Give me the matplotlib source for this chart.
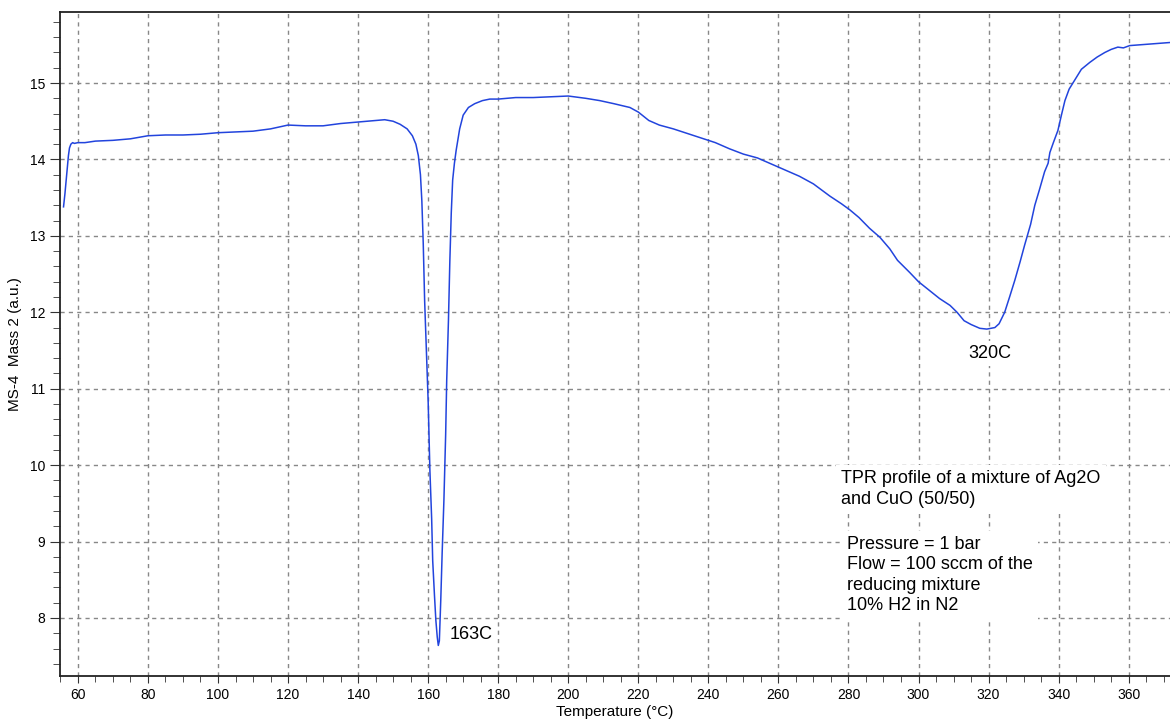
import matplotlib
matplotlib.use("Agg")
import matplotlib.pyplot as plt
from matplotlib.ticker import MultipleLocator

plt.rcParams['font.family'] = ['Liberation Sans', 'DejaVu Sans']

temperature = [55.9, 56.3, 56.7, 57.0, 57.3, 57.6, 58.0, 58.5, 59.0, 60.0, 62.0, 65, 70, 75, 80, 85, 90,
               95, 100, 105, 110, 115, 120, 125, 130, 135, 140, 145, 147.6, 150, 152, 154, 155.5,
               156.5, 157.2, 157.8, 158.2, 158.6, 159.0, 159.5, 160.0, 160.5, 161.0, 161.3,
               161.8, 162.2, 162.6, 162.9, 163.2, 163.6, 164.0, 164.5, 165.0, 165.3, 165.8,
               166.2, 166.6, 167.0, 167.5, 168.0, 169.0, 170.0, 171.5, 173.3, 175.5, 177.6, 180,
               185, 190, 195, 200, 205, 209, 213, 217.6, 220, 223, 226, 230, 234, 238, 242,
               246, 250, 254, 258, 262, 266, 270, 274.7, 278, 280.4, 283, 286, 289, 291.8, 294,
               297.5, 300, 303, 306, 309, 311, 313, 315, 317.5, 319.5, 321.8, 323.0, 324.6,
               326, 327.5, 329, 330.3, 332, 333.2, 334.5, 336, 337.0, 337.5, 338.5, 339.8,
               340.8, 341.8, 343, 344.6, 346.5, 348.9, 351, 353.2, 355, 356.9, 358.5, 360.3,
               363, 366, 369, 371.7]
signal = [13.38, 13.55, 13.75, 13.9, 14.05, 14.15, 14.2, 14.22, 14.21, 14.22, 14.22, 14.24, 14.25, 14.27,
          14.31, 14.32, 14.32, 14.33, 14.35, 14.36, 14.37, 14.40, 14.45, 14.44, 14.44, 14.47, 14.49,
          14.51, 14.52, 14.50, 14.46, 14.40, 14.31,
          14.20, 14.05, 13.80, 13.46, 12.90, 12.15, 11.50, 10.84, 9.93, 9.30, 8.75,
          8.30, 7.97, 7.75, 7.64, 7.70, 8.23, 8.85, 9.54, 10.40, 11.11, 11.90,
          12.68, 13.30, 13.73, 13.95, 14.12, 14.40, 14.58, 14.68, 14.73, 14.77, 14.79, 14.79,
          14.81, 14.81, 14.82, 14.83, 14.80, 14.77, 14.73, 14.68, 14.62, 14.51, 14.45, 14.40, 14.34,
          14.28, 14.22, 14.14, 14.07, 14.02, 13.94, 13.86, 13.78, 13.68, 13.52, 13.42, 13.34, 13.24,
          13.10, 12.98, 12.83, 12.68, 12.52, 12.40, 12.29, 12.18, 12.09, 12.00, 11.89, 11.84,
          11.79, 11.78, 11.80, 11.85, 12.00, 12.20, 12.42, 12.66, 12.88, 13.15, 13.40, 13.60,
          13.84, 13.95, 14.09, 14.22, 14.38, 14.58, 14.77, 14.92, 15.04, 15.18, 15.27, 15.34,
          15.40, 15.44, 15.47, 15.46, 15.49, 15.50, 15.51, 15.52, 15.53]

fig = plt.figure(figsize=(11.7, 7.21), dpi=100)
ax = fig.add_axes([0.0513, 0.0624, 0.9487, 0.921])
ax.plot(temperature, signal, color='#2244dd', linewidth=1.1)

ax.set_xlim(54.9, 371.8)
ax.set_ylim(7.24, 15.93)
ax.xaxis.set_major_locator(MultipleLocator(20))
ax.xaxis.set_minor_locator(MultipleLocator(5))
ax.yaxis.set_major_locator(MultipleLocator(1))
ax.yaxis.set_minor_locator(MultipleLocator(0.2))
ax.tick_params(which='both', direction='out', color='#333333')
ax.tick_params(which='major', labelsize=10)
ax.tick_params(axis='y', which='major', length=7)
ax.tick_params(axis='y', which='minor', length=5)
ax.tick_params(axis='x', which='major', length=5)
ax.tick_params(axis='x', which='minor', length=4)
ax.grid(True, which='major', color='#888888', linestyle=(0, (3, 3)), linewidth=1)
for s in ['left', 'bottom', 'top']:
    ax.spines[s].set_color('#222222')
    ax.spines[s].set_linewidth(1.3)
ax.spines['right'].set_visible(False)

ax.set_xlabel('Temperature (°C)', fontsize=11, labelpad=2)
ax.set_ylabel('MS-4  Mass 2 (a.u.)', fontsize=11, labelpad=6)

bb = dict(facecolor='white', edgecolor='none', pad=3)
ax.text(166.0, 7.78, '163C', fontsize=13, va='center', ha='left', bbox=bb)
ax.text(314.2, 11.46, '320C', fontsize=13, va='center', ha='left', bbox=bb)
ax.text(278.0, 9.93, 'TPR profile of a mixture of Ag2O\nand CuO (50/50)', fontsize=13,
        va='top', ha='left', linespacing=1.3, bbox=dict(facecolor='white', edgecolor='none', pad=4))
ax.text(279.5, 9.07, 'Pressure = 1 bar\nFlow = 100 sccm of the\nreducing mixture\n10% H2 in N2',
        fontsize=13, va='top', ha='left', linespacing=1.25,
        bbox=dict(facecolor='white', edgecolor='none', pad=4))

fig.savefig('out.png', dpi=100)
